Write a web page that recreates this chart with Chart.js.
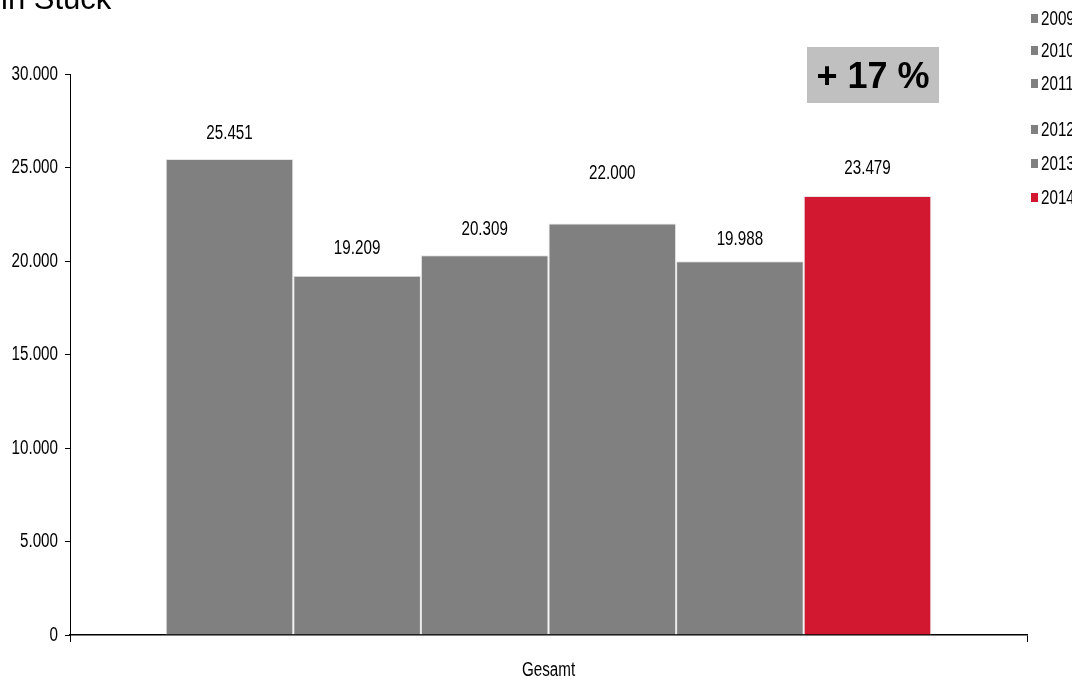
<!DOCTYPE html>
<html>
<head>
<meta charset="utf-8">
<script src="https://cdn.jsdelivr.net/npm/chart.js@4.4.1/dist/chart.umd.min.js"></script>
<style>
  html, body { margin: 0; padding: 0; background: #fff; overflow: hidden; }
  canvas { display: block; }
</style>
</head>
<body>
<canvas id="myChart" width="1072" height="685"></canvas>
<script>
const categories = ['Gesamt'];
const years = ['2009', '2010', '2011', '2012', '2013', '2014'];
const values = [25451, 19209, 20309, 22000, 19988, 23479];
const yTickMax = 30000;
const yTickStep = 5000;
const unitLabel = 'in Stück';

const fmt = v => Math.round(v).toLocaleString('de-DE');

const grey = '#808080';
const red = '#d21830';
const colors = years.map((y, i) => i === years.length - 1 ? red : grey);

// label distance above bar top (the 2012 one sits higher in the original)
const labelOffsets = [26, 27, 26, 50, 22, 27];
const legendRows = [18, 50, 83, 129, 163, 197];

// no Arial Narrow available, so squeeze Liberation Sans horizontally
const SQUEEZE = 0.76;
function narrowText(ctx, text, x, y, align) {
    ctx.save();
    ctx.font = "20px 'Liberation Sans', Arial, sans-serif";
    ctx.textBaseline = 'middle';
    ctx.textAlign = align;
    ctx.fillStyle = '#000';
    ctx.translate(x, y);
    ctx.scale(SQUEEZE, 1);
    ctx.fillText(text, 0, 0);
    ctx.restore();
}

const extras = {
    id: 'extras',
    afterDraw(chart) {
        const ctx = chart.ctx;
        const xs = chart.scales.x, ys = chart.scales.y;
        ctx.save();

        // unit label, cut off at the top
        ctx.fillStyle = '#000';
        ctx.font = "31px 'Liberation Sans', Arial, sans-serif";
        ctx.textAlign = 'left';
        ctx.textBaseline = 'alphabetic';
        ctx.fillText(unitLabel, 1, 9);

        // axis labels
        ys.ticks.forEach(t => {
            narrowText(ctx, fmt(t.value), 58, ys.getPixelForValue(t.value), 'right');
        });
        categories.forEach((c, i) => {
            narrowText(ctx, c, xs.getPixelForTick(i), 670, 'center');
        });

        // value labels
        chart.data.datasets.forEach((ds, i) => {
            const bar = chart.getDatasetMeta(i).data[0];
            narrowText(ctx, fmt(ds.data[0]), bar.x, bar.y - labelOffsets[i], 'center');
        });

        // growth box
        const growth = Math.round((values[values.length - 1] / values[values.length - 2] - 1) * 100);
        ctx.fillStyle = '#c0c0c0';
        ctx.fillRect(807, 47, 132, 56);
        ctx.fillStyle = '#000';
        ctx.textAlign = 'center';
        ctx.textBaseline = 'middle';
        ctx.font = "bold 36px 'Liberation Sans', Arial, sans-serif";
        ctx.fillText('+ ' + growth + ' %', 873, 78);

        // legend
        chart.data.datasets.forEach((ds, i) => {
            const y = legendRows[i];
            ctx.fillStyle = ds.backgroundColor;
            ctx.fillRect(1031, y - 4, 7, 9);
            narrowText(ctx, ds.label, 1041, y + 1, 'left');
        });
        ctx.restore();
    }
};

const ctx = document.getElementById('myChart').getContext('2d');
const myChart = new Chart(ctx, {
    type: 'bar',
    data: {
        labels: categories,
        datasets: years.map((y, i) => ({
            label: y,
            data: [values[i]],
            backgroundColor: colors[i],
            borderColor: '#e6e6e6',
            borderWidth: 1,
            borderSkipped: 'bottom',
            categoryPercentage: 0.8,
            barPercentage: 1.0
        }))
    },
    options: {
        responsive: false,
        animation: false,
        layout: { padding: { top: 74, right: 45, bottom: 0, left: 0 } },
        plugins: {
            legend: { display: false },
            tooltip: { enabled: false },
            title: { display: false }
        },
        scales: {
            x: {
                offset: true,
                grid: {
                    display: true,
                    offset: true,
                    drawOnChartArea: false,
                    drawTicks: true,
                    tickLength: 7,
                    color: '#000'
                },
                border: { color: '#000', width: 1.5 },
                ticks: { display: false },
                afterFit: s => { s.height = 50; }
            },
            y: {
                min: 0,
                max: yTickMax,
                grid: {
                    drawOnChartArea: false,
                    drawTicks: true,
                    tickLength: 5,
                    color: '#000'
                },
                border: { color: '#000', width: 1 },
                ticks: { display: false, stepSize: yTickStep },
                afterFit: s => { s.width = 70; }
            }
        }
    },
    plugins: [extras]
});
</script>
</body>
</html>
